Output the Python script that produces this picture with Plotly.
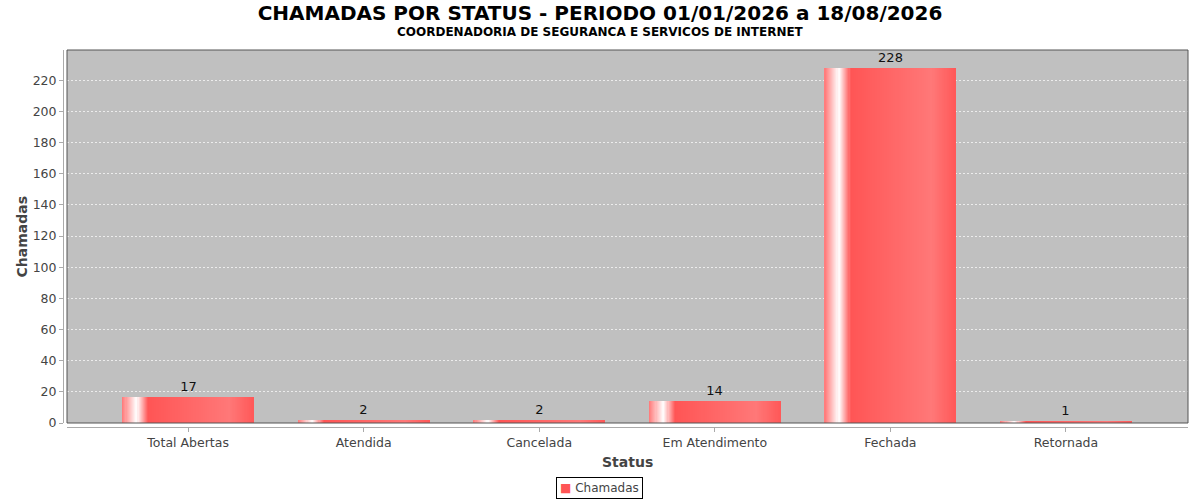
import plotly.graph_objects as go

# ---- data ----
categories = ["Total Abertas", "Atendida", "Cancelada", "Em Atendimento", "Fechada", "Retornada"]
values = [17, 2, 2, 14, 228, 1]
series_name = "Chamadas"
y_ticks = list(range(0, 221, 20))

title = "CHAMADAS POR STATUS - PERIODO 01/01/2026 a 18/08/2026"
subtitle = "COORDENADORIA DE SEGURANCA E SERVICOS DE INTERNET"
x_title = "Status"
y_title = "Chamadas"

# ---- style ----
W, H = 1200, 500
ML, MR, MT, MB = 63, 12, 50, 73
PW = W - ML - MR
PH = H - MT - MB
OFF = 4  # axis offset in px
base_color = "#FF5555"
bar_width = 0.746
n_slices = 120
grad_stops = [
    (0.00, (255, 120, 120)),
    (0.11, (255, 255, 255)),
    (0.20, (255, 85, 85)),
    (0.82, (255, 120, 120)),
    (1.00, (255, 88, 88)),
]
FONT = "DejaVu Sans"
TXT = "#444444"
TICK_SIZE = 12.5


def grad_color(t):
    for (t0, c0), (t1, c1) in zip(grad_stops[:-1], grad_stops[1:]):
        if t0 <= t <= t1:
            f = (t - t0) / (t1 - t0)
            c = [round(a + (b - a) * f) for a, b in zip(c0, c1)]
            return "rgb(%d,%d,%d)" % tuple(c)
    return base_color


def px_x(px):
    return (px - ML) / PW


def px_y(py):
    return (MT + PH - py) / PH


fig = go.Figure()

# base bar (value labels)
fig.add_trace(go.Bar(
    x=categories, y=values, name=series_name,
    marker=dict(color=base_color, line=dict(width=0)),
    width=bar_width,
    text=[str(v) for v in values], textposition="outside",
    textfont=dict(family=FONT, size=13, color="#111111"),
    cliponaxis=False, showlegend=False,
))

# gradient slices (GradientBarPainter look)
sw = bar_width / n_slices
for k in range(n_slices):
    t = (k + 0.5) / n_slices
    fig.add_trace(go.Bar(
        x=categories, y=values, name=series_name,
        marker=dict(color=grad_color(t), line=dict(width=0)),
        width=sw * 1.5 if k < n_slices - 1 else sw, offset=-bar_width / 2 + k * sw,
        showlegend=False, hoverinfo="skip",
    ))

x0p = OFF / PW
y0p = OFF / PH

fig.update_layout(
    width=W, height=H,
    margin=dict(l=ML, r=MR, t=MT, b=MB, autoexpand=False),
    paper_bgcolor="white", plot_bgcolor="#C0C0C0",
    barmode="overlay", bargap=0, showlegend=False,
    font=dict(family=FONT, color=TXT, size=12),
    title=dict(text=title, x=0.5, xanchor="center", y=1 - 13 / H, yanchor="middle",
               yref="container",
               font=dict(family=FONT, size=20, color="#000000", weight="bold")),
    xaxis=dict(
        type="category", domain=[x0p, 1], range=[-0.69, 5.695],
        anchor="free", position=0, automargin=False,
        showline=True, linecolor="#AAAAAA", linewidth=1,
        ticks="outside", ticklen=4, tickcolor="#AAAAAA",
        showgrid=False, tickfont=dict(size=TICK_SIZE, color=TXT),
    ),
    yaxis=dict(
        domain=[y0p, 1], range=[0, 239.4],
        anchor="free", position=0, automargin=False,
        tickvals=y_ticks,
        showline=True, linecolor="#AAAAAA", linewidth=1,
        ticks="outside", ticklen=4, tickcolor="#AAAAAA",
        showgrid=True, gridcolor="rgba(255,255,255,0.7)", griddash="2px,2px", gridwidth=1,
        zeroline=False, tickfont=dict(size=TICK_SIZE, color=TXT),
    ),
    shapes=[dict(type="rect", xref="paper", yref="paper", x0=x0p, x1=1, y0=y0p, y1=1,
                 line=dict(color="#555555", width=1), fillcolor="rgba(0,0,0,0)", layer="above")],
    annotations=[
        dict(text=subtitle, xref="paper", yref="paper", x=px_x(600), y=px_y(32),
             xanchor="center", yanchor="middle", showarrow=False,
             font=dict(family=FONT, size=12, color="#000000", weight="bold")),
        dict(text=y_title, xref="paper", yref="paper", x=px_x(21), y=px_y(236.5),
             xanchor="center", yanchor="middle", showarrow=False, textangle=-90,
             font=dict(family=FONT, size=14, color=TXT, weight="bold")),
        dict(text=x_title, xref="paper", yref="paper", x=px_x(627.5), y=px_y(462),
             xanchor="center", yanchor="middle", showarrow=False,
             font=dict(family=FONT, size=14, color=TXT, weight="bold")),
        # legend box
        dict(text="<span style='color:%s'>■</span> %s" % (base_color, series_name),
             xref="paper", yref="paper", x=px_x(599), y=px_y(487.5),
             xanchor="center", yanchor="middle", showarrow=False,
             bordercolor="#000000", borderwidth=1, borderpad=3, bgcolor="white",
             font=dict(family=FONT, size=12, color=TXT)),
    ],
)

fig.write_html("out.html", config={"displayModeBar": False},
               post_script="document.body.style.margin='0';")
